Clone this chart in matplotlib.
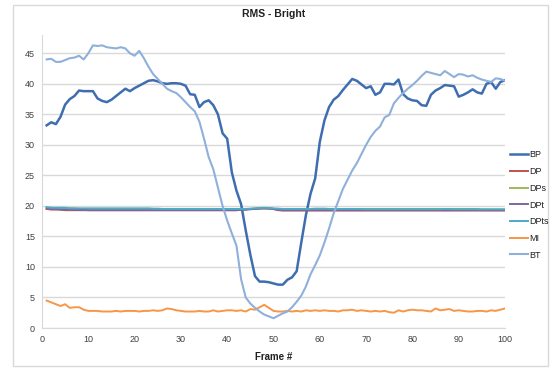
import matplotlib
matplotlib.use("Agg")
import matplotlib.pyplot as plt
from matplotlib.patches import Rectangle

frames = list(range(1, 101))

BP = [33.2, 33.7, 33.4, 34.6, 36.6, 37.5, 38.0, 38.9, 38.8, 38.8,
      38.8, 37.6, 37.2, 37.0, 37.4, 38.0, 38.6, 39.2, 38.8, 39.3,
      39.7, 40.1, 40.5, 40.6, 40.4, 40.1, 40.0, 40.1, 40.1, 40.0,
      39.7, 38.3, 38.2, 36.2, 37.0, 37.3, 36.5, 35.0, 31.9, 31.0,
      25.5, 22.5, 20.3, 16.0, 12.0, 8.5, 7.6, 7.6, 7.5, 7.3,
      7.1, 7.1, 7.9, 8.3, 9.3, 14.0, 18.5, 22.0, 24.5, 30.5,
      34.0, 36.2, 37.4, 38.0, 39.0, 39.9, 40.8, 40.5, 39.9, 39.3,
      39.6, 38.2, 38.6, 40.0, 40.0, 39.9, 40.7, 38.3, 37.6, 37.3,
      37.2, 36.5, 36.4, 38.2, 38.9, 39.3, 39.8, 39.7, 39.6, 37.9,
      38.2, 38.6, 39.1, 38.6, 38.4, 40.0, 40.3, 39.2, 40.3, 40.6]

BT = [44.0, 44.1, 43.6, 43.6, 43.9, 44.2, 44.3, 44.6, 44.0, 45.0,
      46.3, 46.2, 46.3, 46.0, 45.9, 45.8, 46.0, 45.8, 45.0, 44.6,
      45.4, 44.2, 42.8, 41.6, 40.8, 40.0, 39.2, 38.8, 38.5, 37.8,
      37.0, 36.2, 35.5, 33.8, 31.0, 28.0, 26.0, 23.0, 20.0, 17.6,
      15.5, 13.5, 8.0, 5.0, 4.0, 3.3, 2.7, 2.2, 1.9, 1.6,
      2.0, 2.4, 2.7, 3.4, 4.3, 5.3, 6.8, 8.8, 10.3, 11.9,
      14.0, 16.3, 18.8, 20.8, 22.8, 24.3, 25.8, 27.0, 28.5, 30.0,
      31.3, 32.3, 33.0, 34.5, 34.9, 36.8, 37.7, 38.5, 39.2, 39.8,
      40.5, 41.3, 42.0, 41.8, 41.6, 41.4, 42.1, 41.6, 41.1, 41.6,
      41.5, 41.2, 41.4, 41.0, 40.7, 40.5, 40.3, 40.9, 40.8, 40.5]

MI = [4.5, 4.2, 3.9, 3.6, 3.9, 3.3, 3.4, 3.4, 3.0, 2.8,
      2.8, 2.8, 2.7, 2.7, 2.7, 2.8, 2.7, 2.8, 2.8, 2.8,
      2.7, 2.8, 2.8, 2.9, 2.8, 2.9, 3.2, 3.1, 2.9, 2.8,
      2.7, 2.7, 2.7, 2.8, 2.7, 2.7, 2.9, 2.7, 2.8, 2.9,
      2.9, 2.8, 2.9, 2.7, 3.1, 3.0, 3.4, 3.8, 3.3, 2.8,
      2.7, 2.7, 2.8, 2.7, 2.8, 2.7, 2.9, 2.8, 2.9, 2.8,
      2.9, 2.8, 2.8, 2.7, 2.9, 2.9, 3.0, 2.8, 2.9, 2.8,
      2.7, 2.8, 2.7, 2.8, 2.6, 2.5, 2.9, 2.7, 2.9, 3.0,
      2.9, 2.9, 2.8, 2.7, 3.2, 2.9, 3.0, 3.1, 2.8, 2.9,
      2.8, 2.7, 2.7, 2.8, 2.8, 2.7, 2.9, 2.8, 3.0, 3.2]

DP = [19.5, 19.4, 19.4, 19.4, 19.3, 19.3, 19.3, 19.3, 19.3, 19.3,
      19.3, 19.3, 19.3, 19.3, 19.3, 19.3, 19.3, 19.3, 19.3, 19.3,
      19.3, 19.3, 19.3, 19.3, 19.3, 19.3, 19.3, 19.3, 19.3, 19.3,
      19.3, 19.3, 19.3, 19.3, 19.3, 19.3, 19.3, 19.3, 19.3, 19.3,
      19.3, 19.3, 19.4, 19.4, 19.5, 19.5, 19.6, 19.6, 19.6, 19.5,
      19.3, 19.25, 19.25, 19.25, 19.25, 19.25, 19.25, 19.25, 19.25, 19.25,
      19.25, 19.25, 19.25, 19.25, 19.25, 19.25, 19.25, 19.25, 19.25, 19.25,
      19.25, 19.25, 19.25, 19.25, 19.25, 19.25, 19.25, 19.25, 19.25, 19.25,
      19.25, 19.25, 19.25, 19.25, 19.25, 19.25, 19.25, 19.25, 19.25, 19.25,
      19.25, 19.25, 19.25, 19.25, 19.25, 19.25, 19.25, 19.25, 19.25, 19.25]

DPs = [19.7, 19.7, 19.6, 19.6, 19.6, 19.6, 19.6, 19.5, 19.5, 19.5,
       19.5, 19.5, 19.5, 19.5, 19.5, 19.5, 19.5, 19.5, 19.5, 19.5,
       19.5, 19.5, 19.5, 19.5, 19.5, 19.5, 19.5, 19.5, 19.5, 19.5,
       19.5, 19.5, 19.5, 19.5, 19.5, 19.5, 19.5, 19.5, 19.5, 19.5,
       19.5, 19.5, 19.5, 19.5, 19.5, 19.6, 19.6, 19.6, 19.6, 19.5,
       19.5, 19.5, 19.5, 19.5, 19.5, 19.5, 19.5, 19.5, 19.5, 19.5,
       19.5, 19.5, 19.5, 19.5, 19.5, 19.5, 19.5, 19.5, 19.5, 19.5,
       19.5, 19.5, 19.5, 19.5, 19.5, 19.5, 19.5, 19.5, 19.5, 19.5,
       19.5, 19.5, 19.5, 19.5, 19.5, 19.5, 19.5, 19.5, 19.5, 19.5,
       19.5, 19.5, 19.5, 19.5, 19.4, 19.4, 19.4, 19.4, 19.4, 19.4]

DPt = [19.6, 19.5, 19.5, 19.4, 19.4, 19.4, 19.4, 19.35, 19.35, 19.3,
       19.3, 19.3, 19.3, 19.3, 19.3, 19.3, 19.3, 19.3, 19.3, 19.3,
       19.3, 19.3, 19.3, 19.3, 19.3, 19.3, 19.3, 19.3, 19.3, 19.3,
       19.3, 19.3, 19.3, 19.3, 19.3, 19.3, 19.3, 19.3, 19.3, 19.3,
       19.3, 19.3, 19.35, 19.4, 19.45, 19.5, 19.55, 19.6, 19.55, 19.5,
       19.35, 19.3, 19.3, 19.3, 19.3, 19.3, 19.3, 19.3, 19.3, 19.3,
       19.3, 19.3, 19.3, 19.3, 19.3, 19.3, 19.3, 19.3, 19.3, 19.3,
       19.3, 19.3, 19.3, 19.3, 19.3, 19.3, 19.3, 19.3, 19.3, 19.3,
       19.3, 19.3, 19.3, 19.3, 19.3, 19.3, 19.3, 19.3, 19.3, 19.3,
       19.3, 19.3, 19.3, 19.3, 19.3, 19.3, 19.3, 19.3, 19.3, 19.3]

DPts = [19.8, 19.7, 19.7, 19.7, 19.7, 19.6, 19.6, 19.6, 19.6, 19.6,
        19.6, 19.6, 19.6, 19.6, 19.6, 19.6, 19.6, 19.6, 19.6, 19.6,
        19.6, 19.6, 19.6, 19.55, 19.55, 19.5, 19.5, 19.5, 19.5, 19.5,
        19.5, 19.5, 19.5, 19.5, 19.5, 19.5, 19.5, 19.5, 19.5, 19.5,
        19.5, 19.5, 19.5, 19.5, 19.55, 19.6, 19.65, 19.7, 19.65, 19.6,
        19.55, 19.5, 19.5, 19.5, 19.5, 19.5, 19.5, 19.5, 19.55, 19.55,
        19.55, 19.5, 19.5, 19.5, 19.5, 19.5, 19.5, 19.5, 19.5, 19.45,
        19.45, 19.45, 19.45, 19.45, 19.45, 19.45, 19.45, 19.45, 19.45, 19.45,
        19.45, 19.45, 19.45, 19.45, 19.45, 19.45, 19.5, 19.5, 19.45, 19.45,
        19.45, 19.45, 19.45, 19.45, 19.45, 19.45, 19.45, 19.45, 19.45, 19.45]

series = [("BP", BP, "#3F6EB0", 1.8),
          ("DP", DP, "#C0504D", 1.4),
          ("DPs", DPs, "#9BBB59", 1.4),
          ("DPt", DPt, "#8064A2", 1.4),
          ("DPts", DPts, "#4BACC6", 1.4),
          ("MI", MI, "#F79646", 1.4),
          ("BT", BT, "#8EB0DB", 1.5)]

x_ticks = [0, 10, 20, 30, 40, 50, 60, 70, 80, 90, 100]
y_ticks = [0, 5, 10, 15, 20, 25, 30, 35, 40, 45]

plt.rcParams['font.family'] = ['Liberation Sans', 'DejaVu Sans']

fig = plt.figure(figsize=(5.5, 3.69), dpi=100)
fig.patches.append(Rectangle((13/550, 1-366/369), 535/550, 361/369,
                             transform=fig.transFigure, fill=False,
                             edgecolor="#D9D9D9", linewidth=1.0))
ax = fig.add_axes([42/550, 1-328/369, 463/550, 293/369])

for name, vals, color, lw in series:
    ax.plot(frames, vals, color=color, linewidth=lw, label=name,
            solid_joinstyle="round")

ax.set_xlim(0, 100)
ax.set_ylim(0, 48)
ax.set_xticks(x_ticks)
ax.set_yticks(y_ticks)
ax.tick_params(axis="both", length=0, labelsize=6.5, colors="#404040", pad=5)
ax.grid(axis="y", color="#D9D9D9", linewidth=1.0)
ax.set_axisbelow(True)
for s in ["top", "right"]:
    ax.spines[s].set_visible(False)
for s in ["left", "bottom"]:
    ax.spines[s].set_color("#D9D9D9")

ax.set_title("RMS - Bright", fontsize=7.5, fontweight="bold", color="#202020",
             pad=0, y=(369-17)/369 * 369 / 293 - (1-328/369) * 369 / 293 - 0.0)
ax.set_xlabel("Frame #", fontsize=7, fontweight="bold", color="#202020", labelpad=6)

leg = fig.legend(loc="center left", bbox_to_anchor=(506/550, 1-205/369),
                 frameon=False, fontsize=6.5, labelspacing=0.85,
                 handlelength=2.0, handletextpad=0.2, borderaxespad=0)
for t in leg.get_texts():
    t.set_color("#202020")

fig.savefig("out.png", dpi=100)
